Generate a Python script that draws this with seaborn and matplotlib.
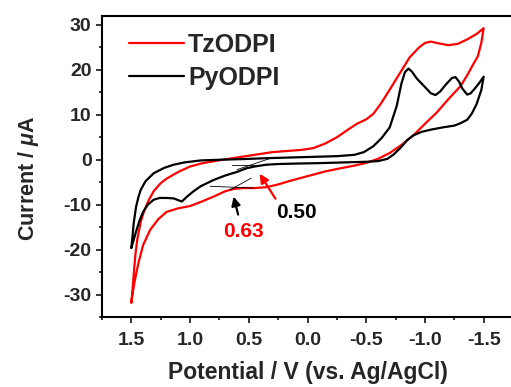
import numpy as np
import pandas as pd
import matplotlib
matplotlib.use("Agg")
import matplotlib.pyplot as plt
from matplotlib.ticker import MultipleLocator
import seaborn as sns

# ---------------- data ----------------
series_names = ["TzODPI", "PyODPI"]

tz_potential = [1.50, 1.49, 1.48, 1.465, 1.45, 1.42, 1.39, 1.35, 1.31, 1.25, 1.20, 1.10, 1.00, 0.90, 0.75,
                0.60, 0.45, 0.30, 0.15, 0.05, -0.05, -0.15, -0.25, -0.35, -0.42, -0.50, -0.56, -0.62,
                -0.70, -0.78, -0.87, -0.95, -1.00, -1.05, -1.10, -1.20, -1.28, -1.36, -1.44, -1.50,
                -1.48, -1.45, -1.41, -1.36, -1.30, -1.20, -1.10, -1.00, -0.90, -0.80, -0.70, -0.60,
                -0.50, -0.40, -0.28, -0.15, -0.05, 0.05, 0.15, 0.25, 0.35, 0.45, 0.55, 0.63, 0.70,
                0.80, 0.90, 1.00, 1.10, 1.20, 1.27, 1.34, 1.40, 1.44, 1.47, 1.49, 1.50]
tz_current = [-31.8, -29.0, -25.5, -21.0, -17.8, -13.8, -11.3, -8.9, -7.0, -5.2, -4.2, -2.7, -1.5, -0.8,
              -0.1, 0.5, 1.1, 1.7, 2.0, 2.2, 2.6, 3.6, 5.0, 6.8, 8.0, 9.0, 10.2, 12.3, 15.6, 19.0,
              22.8, 25.0, 26.0, 26.3, 26.0, 25.5, 25.8, 26.8, 28.0, 29.3,
              26.0, 23.0, 21.2, 18.8, 16.3, 13.5, 10.5, 8.0, 5.4, 3.3, 1.5, 0.2,
              -0.7, -1.3, -1.9, -2.6, -3.3, -4.0, -4.7, -5.5, -6.1, -6.3, -6.3, -6.5, -7.0,
              -8.2, -9.3, -10.3, -10.8, -11.6, -13.2, -15.6, -19.0, -23.0, -26.8, -29.8, -31.8]

py_potential = [1.50, 1.49, 1.48, 1.46, 1.44, 1.42, 1.38, 1.31, 1.22, 1.14, 1.05, 0.91, 0.75, 0.55, 0.35,
                0.15, -0.05, -0.25, -0.40, -0.48, -0.56, -0.63, -0.70, -0.76, -0.80, -0.83, -0.86,
                -0.89, -0.93, -1.00, -1.05, -1.09, -1.13, -1.18, -1.23, -1.26, -1.29, -1.32, -1.36,
                -1.39, -1.42, -1.46, -1.50,
                -1.48, -1.44, -1.40, -1.36, -1.30, -1.25, -1.15, -1.05, -0.97, -0.90, -0.85, -0.79,
                -0.73, -0.68, -0.60, -0.50, -0.30, -0.10, 0.10, 0.25, 0.35, 0.45, 0.52, 0.60, 0.70,
                0.80, 0.91, 0.97, 1.03, 1.07, 1.10, 1.14, 1.20, 1.26, 1.31, 1.36, 1.40, 1.43, 1.46,
                1.48, 1.50]
py_current = [-19.6, -17.0, -14.1, -10.5, -8.3, -6.7, -4.8, -3.0, -1.8, -1.1, -0.6, -0.15, 0.0, 0.15, 0.35,
              0.5, 0.65, 0.8, 1.1, 1.7, 3.0, 4.8, 7.2, 12.0, 17.0, 19.5, 20.3,
              19.6, 18.1, 16.2, 14.8, 14.4, 15.2, 16.8, 18.2, 18.4, 17.4, 15.8, 14.5,
              14.8, 15.7, 17.0, 18.5,
              15.5, 12.4, 10.3, 8.9, 8.1, 7.6, 7.2, 6.7, 6.2, 5.4, 4.4, 2.6,
              1.1, 0.2, -0.3, -0.45, -0.6, -0.75, -0.85, -0.95, -1.1, -1.5, -1.9, -2.7, -3.5,
              -4.5, -5.9, -7.0, -8.3, -9.3, -9.0, -8.6, -8.5, -8.5, -8.9, -10.0, -11.6, -13.5, -16.0,
              -17.8, -19.6]

# onset tangent construction lines (potential, current)
tan_py_h = ([0.64, 0.36], [-1.1, -1.1])
tan_py_s = ([0.60, 0.33], [-2.2, 0.2])
tan_tz_h = ([0.83, 0.46], [-5.9, -6.3])
tan_tz_s = ([0.66, 0.48], [-6.7, -4.1])
onset_labels = ["0.50", "0.63"]

x_ticks = [1.5, 1.0, 0.5, 0.0, -0.5, -1.0, -1.5]
y_ticks = [30, 20, 10, 0, -10, -20, -30]

# ---------------- styling ----------------
sns.set_style("ticks")
plt.rcParams['font.family'] = ['Liberation Sans', 'DejaVu Sans']
plt.rcParams['font.weight'] = 'bold'
plt.rcParams['mathtext.fontset'] = 'custom'
plt.rcParams['mathtext.rm'] = 'Liberation Sans:bold'
plt.rcParams['mathtext.it'] = 'Liberation Sans:bold:italic'
plt.rcParams['mathtext.bf'] = 'Liberation Sans:bold'

df = pd.concat([
    pd.DataFrame({"potential": tz_potential, "current": tz_current, "compound": series_names[0]}),
    pd.DataFrame({"potential": py_potential, "current": py_current, "compound": series_names[1]}),
])

fig = plt.figure(figsize=(5.11, 3.87), dpi=100)
ax = fig.add_axes([102 / 511, 70 / 387, 411 / 511, 301 / 387])

sns.lineplot(data=df, x="potential", y="current", hue="compound", units="compound",
             estimator=None, sort=False, palette={"TzODPI": "#ff0000", "PyODPI": "#000000"},
             linewidth=1.6, ax=ax, legend=True)

# tangent lines
for (xs, ys) in (tan_py_h, tan_py_s, tan_tz_h, tan_tz_s):
    ax.plot(xs, ys, color="black", lw=0.6)

# arrows
ax.annotate("", xy=(0.42, -2.6), xytext=(0.26, -9.2),
            arrowprops=dict(arrowstyle="-|>", color="#ff0000", lw=1.6, mutation_scale=13))
ax.annotate("", xy=(0.635, -7.6), xytext=(0.585, -12.8),
            arrowprops=dict(arrowstyle="-|>", color="black", lw=1.6, mutation_scale=13))
ax.text(0.09, -11.8, onset_labels[0], color="black", fontsize=15, fontweight="bold",
        ha="center", va="center")
ax.text(0.545, -16.0, onset_labels[1], color="#ff0000", fontsize=15, fontweight="bold",
        ha="center", va="center")

ax.set_xlim(1.75, -1.75)
ax.set_ylim(-35, 32)
ax.set_xticks(x_ticks)
ax.set_yticks(y_ticks)
ax.set_xticklabels([f"{v:.1f}" for v in x_ticks])
ax.set_yticklabels([str(v) for v in y_ticks])
ax.xaxis.set_minor_locator(MultipleLocator(0.25))
ax.yaxis.set_minor_locator(MultipleLocator(5))
ax.tick_params(which="major", direction="out", length=4, width=1.3, labelsize=14)
ax.tick_params(which="minor", direction="out", length=2.5, width=1.3)
ax.tick_params(axis="x", which="major", pad=6.5)
ax.tick_params(axis="y", which="major", pad=3.5)
for lab in ax.get_xticklabels() + ax.get_yticklabels():
    lab.set_fontweight("bold")
for s in ["left", "bottom", "top"]:
    ax.spines[s].set_linewidth(1.5)
    ax.spines[s].set_color("black")
ax.spines["right"].set_visible(False)

ax.set_xlabel("Potential / V (vs. Ag/AgCl)", fontsize=16.5, fontweight="bold")
ax.xaxis.set_label_coords(0.5, -0.145)
ax.set_ylabel("Current / $\\mu$A", fontsize=15.5, fontweight="bold")
ax.yaxis.set_label_coords(-0.148, 0.46)

leg = ax.legend(title=None, frameon=False, loc="upper left",
                prop={"weight": "bold", "size": 18},
                handlelength=2.2, handletextpad=0.15, labelspacing=0.36,
                bbox_to_anchor=(0.066, 0.945), borderaxespad=0, borderpad=0)
for h in leg.get_lines():
    h.set_linewidth(1.6)

fig.savefig("out.png", dpi=100)
